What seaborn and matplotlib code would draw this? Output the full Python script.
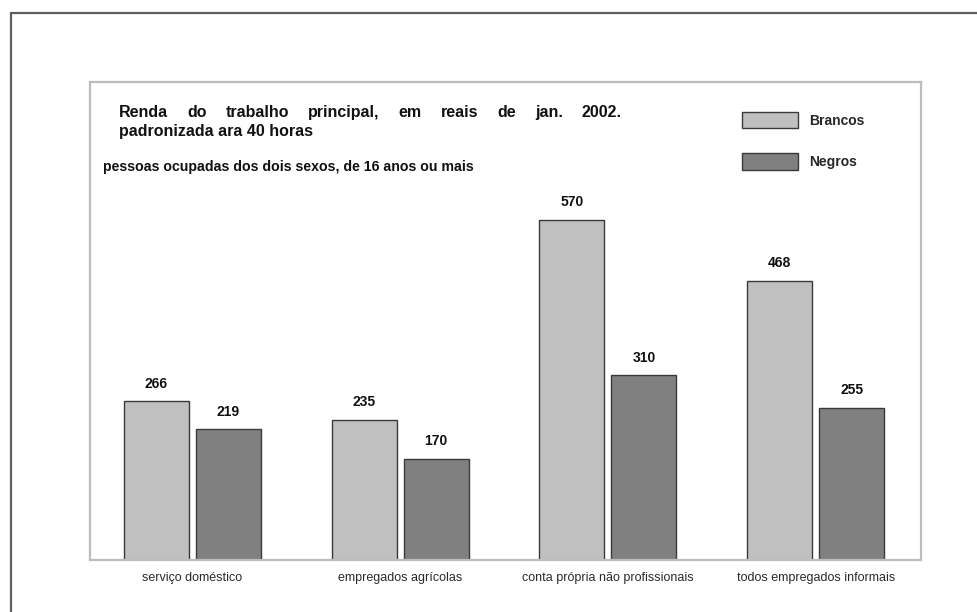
import matplotlib
matplotlib.use("Agg")
import matplotlib.pyplot as plt
from matplotlib import font_manager
from matplotlib.lines import Line2D
from matplotlib.patches import Patch
import seaborn as sns
import pandas as pd

# Renda do trabalho principal por grupo de ocupação e cor
categorias = ["serviço doméstico", "empregados agrícolas",
              "conta própria não profissionais", "todos empregados informais"]
grupos = ["Brancos", "Negros"]
brancos = [266, 235, 570, 468]
negros = [219, 170, 310, 255]
cores = {"Brancos": "#c0c0c0", "Negros": "#808080"}

titulo_l1 = "Renda do trabalho principal, em reais de jan. 2002."
titulo_l2 = "padronizada ara 40 horas"
subtitulo = "pessoas ocupadas dos dois sexos, de 16 anos ou mais"

df = pd.DataFrame({
    "categoria": categorias * 2,
    "grupo": ["Brancos"] * len(categorias) + ["Negros"] * len(categorias),
    "renda": brancos + negros,
})

sns.set_theme(style="white")
disponiveis = {f.name for f in font_manager.fontManager.ttflist}
sans = "Liberation Sans" if "Liberation Sans" in disponiveis else "DejaVu Sans"
narrow = "Liberation Sans Narrow" if "Liberation Sans Narrow" in disponiveis else sans
plt.rcParams["font.family"] = [sans, "DejaVu Sans"]

W, H = 978, 612
fig = plt.figure(figsize=(W / 100, H / 100), dpi=100)
fig.patch.set_facecolor("white")


def fx(px):
    return px / W


def fy(py):
    return 1 - py / H


ax = fig.add_axes([fx(90), fy(560), fx(921) - fx(90), fy(82) - fy(560)])

sns.barplot(data=df, x="categoria", y="renda", hue="grupo", order=categorias,
            hue_order=grupos, palette=cores, width=0.693, gap=0.097,
            edgecolor="#3a3a3a", linewidth=1.0, saturation=1, ax=ax)

ax.set_xlim(-0.493, len(categorias) - 0.493)
ax.set_ylim(0, 801)
ax.set_xlabel("")
ax.set_ylabel("")
ax.set_yticks([])
ax.tick_params(axis="x", length=0, pad=9, labelsize=9, labelcolor="#2a2a2a")
for lbl in ax.get_xticklabels():
    lbl.set_fontfamily([narrow, "DejaVu Sans"])
for side, sp in ax.spines.items():
    sp.set_visible(True)
    sp.set_color("#bdbdbd")
    sp.set_linewidth(1.6)

# rótulos de valor acima das barras
for cont in ax.containers:
    for bar in cont:
        h = bar.get_height()
        ax.annotate(f"{h:.0f}", (bar.get_x() + bar.get_width() / 2, h),
                    xytext=(0, 12.5), textcoords="offset points",
                    ha="center", va="center", fontsize=10, fontweight="bold",
                    color="#111111")

# legenda
handles = [Patch(facecolor=cores[g], edgecolor="#3a3a3a", linewidth=1.0) for g in grupos]
ax.legend(handles, grupos, loc="upper left", bbox_to_anchor=(fx(742), fy(112)),
          bbox_transform=fig.transFigure, frameon=False, borderpad=0,
          borderaxespad=0, handlelength=4.0, handleheight=1.45,
          labelspacing=1.8, handletextpad=0.8,
          prop={"weight": "bold", "size": 10})

# título: primeira linha justificada entre as margens
renderer = fig.canvas.get_renderer()
palavras = titulo_l1.split()
tam_titulo = 11.5
x_ini, x_fim = 119, 622
objs = [fig.text(0, fy(117), p, ha="left", va="baseline", fontsize=tam_titulo,
                 fontweight="bold", color="#111111") for p in palavras]
larguras = [o.get_window_extent(renderer).width for o in objs]
espaco = (x_fim - x_ini - sum(larguras)) / (len(palavras) - 1)
x = x_ini
for o, w in zip(objs, larguras):
    o.set_x(fx(x))
    x += w + espaco
fig.text(fx(x_ini), fy(136), titulo_l2, ha="left", va="baseline",
         fontsize=tam_titulo, fontweight="bold", color="#111111")
fig.text(fx(103), fy(171), subtitulo, ha="left", va="baseline",
         fontsize=10.2, fontweight="bold", color="#111111")

# moldura externa
fig.add_artist(Line2D([fx(11), fx(11)], [0, fy(13)], color="#606060",
                      linewidth=1.6, transform=fig.transFigure))
fig.add_artist(Line2D([fx(11), 1], [fy(13), fy(13)], color="#606060",
                      linewidth=1.6, transform=fig.transFigure))

fig.savefig("out.png", dpi=100)
